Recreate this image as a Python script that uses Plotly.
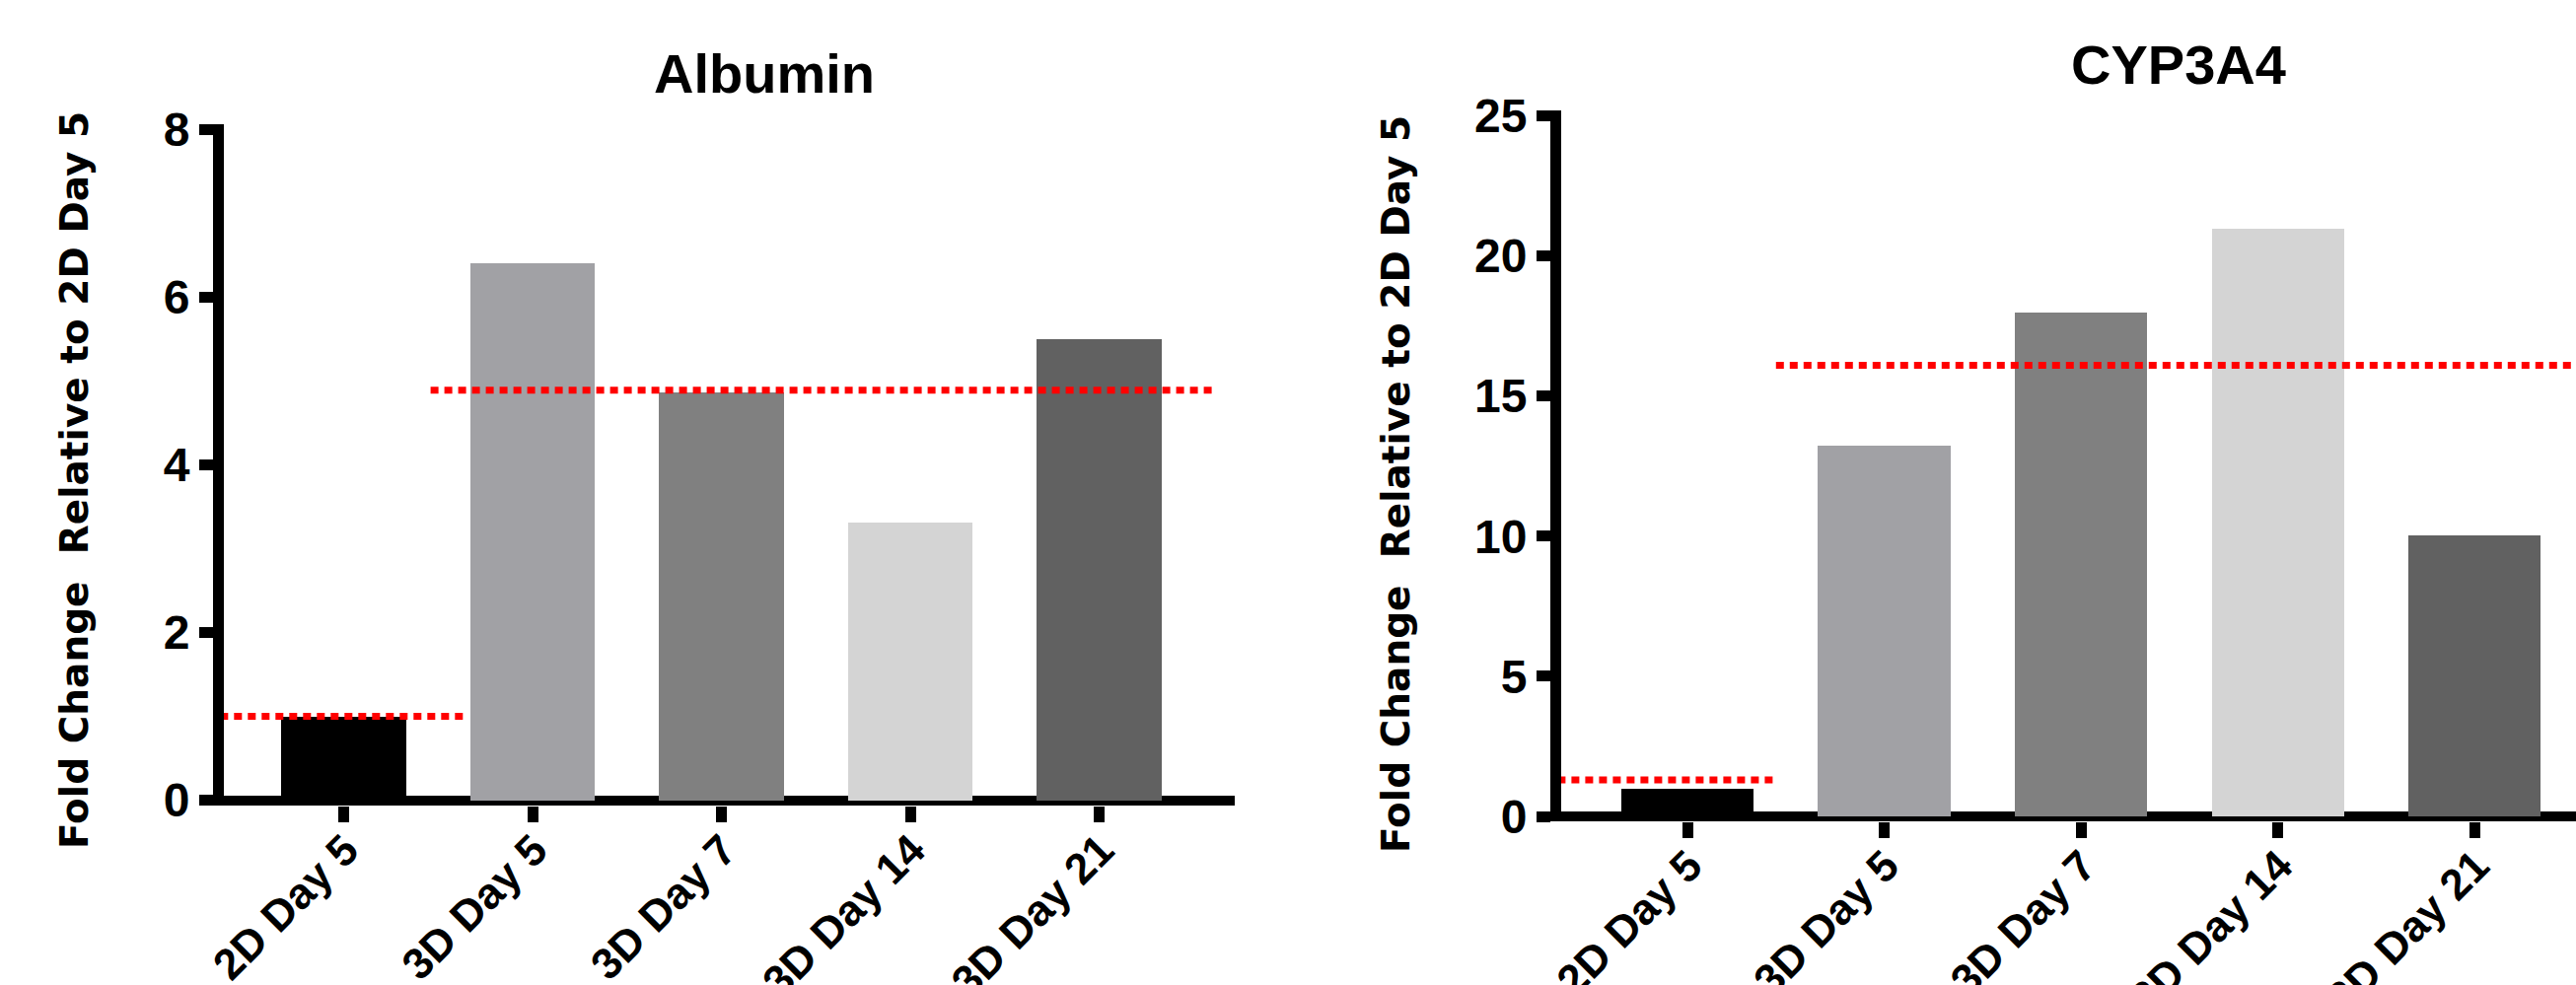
import plotly.graph_objects as go

# ---- data ----
categories = ["2D Day 5", "3D Day 5", "3D Day 7", "3D Day 14", "3D Day 21"]
bar_colors = ["#000000", "#A1A1A5", "#808080", "#D4D4D4", "#616161"]

albumin_values = [1.0, 6.41, 4.86, 3.31, 5.50]
cyp3a4_values = [1.0, 13.22, 17.98, 20.98, 10.02]

# reference (group mean) lines
albumin_ref_2d = 1.0
albumin_ref_3d = 4.89
cyp3a4_ref_2d = 1.3
cyp3a4_ref_3d = 16.1

albumin_yticks = [0, 2, 4, 6, 8]
cyp3a4_yticks = [0, 5, 10, 15, 20, 25]

W, H = 2612, 999
TICKFONT = "Liberation Sans, Arial, sans-serif"

fig = go.Figure()
idx = list(range(len(categories)))

fig.add_trace(go.Bar(x=idx, y=albumin_values, marker=dict(color=bar_colors, line=dict(width=0)),
                     width=0.663, xaxis="x", yaxis="y", showlegend=False))
fig.add_trace(go.Bar(x=idx, y=cyp3a4_values, marker=dict(color=bar_colors, line=dict(width=0)),
                     width=0.672, xaxis="x2", yaxis="y2", showlegend=False))

red = dict(color="#FF0000", width=7, dash="8px,6px")
# 2D group spans category 0, 3D group spans categories 1..4
fig.add_trace(go.Scatter(x=[-0.8, 0.64], y=[albumin_ref_2d] * 2, mode="lines", line=red,
                         xaxis="x", yaxis="y", showlegend=False))
fig.add_trace(go.Scatter(x=[0.46, 4.6], y=[albumin_ref_3d] * 2, mode="lines", line=red,
                         xaxis="x", yaxis="y", showlegend=False))
fig.add_trace(go.Scatter(x=[-0.8, 0.45], y=[cyp3a4_ref_2d] * 2, mode="lines", line=red,
                         xaxis="x2", yaxis="y2", showlegend=False))
fig.add_trace(go.Scatter(x=[0.45, 4.8], y=[cyp3a4_ref_3d] * 2, mode="lines", line=red,
                         xaxis="x2", yaxis="y2", showlegend=False))

xcommon = dict(tickmode="array", tickvals=idx, ticktext=categories, tickangle=-45,
               showline=False, showgrid=False, zeroline=False, ticks="outside",
               ticklen=16, tickwidth=11, tickcolor="black", automargin=False,
               ticklabelstandoff=-15, ticklabelshift=2,
               tickfont=dict(family=TICKFONT, size=44, color="black", weight="bold"))
ycommon = dict(showline=True, linewidth=11, linecolor="black", showgrid=False,
               zeroline=True, zerolinewidth=10, zerolinecolor="black", automargin=False,
               ticks="outside", ticklen=14, tickwidth=11, tickcolor="black",
               tickfont=dict(family=TICKFONT, size=48, color="black", weight="bold"),
               tickmode="array")

fig.update_layout(
    template="none",
    width=W, height=H, margin=dict(l=0, r=0, t=0, b=0, pad=0),
    paper_bgcolor="white", plot_bgcolor="white", bargap=0,
    xaxis=dict(domain=[227 / W, 1252 / W], range=[-0.6345, 4.718], anchor="y", **xcommon),
    yaxis=dict(domain=[(H - 816.5) / H, (H - 126) / H], range=[-0.0588, 8.0647], anchor="x",
               tickvals=albumin_yticks, **ycommon),
    xaxis2=dict(domain=[1583 / W, 1.0], range=[-0.6416, 4.516], anchor="y2", **xcommon),
    yaxis2=dict(domain=[(H - 832.5) / H, (H - 112) / H], range=[-0.158, 25.19], anchor="x2",
                tickvals=cyp3a4_yticks, **ycommon),
)

titlefont = dict(family=TICKFONT, size=56, color="black", weight="bold")
ytitlefont = dict(family="DejaVu Sans, sans-serif", size=39, color="black", weight="bold")
ytitle = "Fold Change \u00a0Relative to 2D Day 5"
fig.add_annotation(text="Albumin", x=775 / W, y=(H - 75) / H, xref="paper", yref="paper",
                   xanchor="center", yanchor="middle", showarrow=False, font=titlefont)
fig.add_annotation(text="CYP3A4", x=2209 / W, y=(H - 66) / H, xref="paper", yref="paper",
                   xanchor="center", yanchor="middle", showarrow=False, font=titlefont)
fig.add_annotation(text=ytitle, x=75 / W, y=(H - 487) / H, xref="paper", yref="paper",
                   xanchor="center", yanchor="middle", textangle=-90, showarrow=False, font=ytitlefont)
fig.add_annotation(text=ytitle, x=1415 / W, y=(H - 491) / H, xref="paper", yref="paper",
                   xanchor="center", yanchor="middle", textangle=-90, showarrow=False, font=ytitlefont)

fig.write_html("out.html", config={"displayModeBar": False},
               post_script="document.body.style.margin='0';document.body.style.overflow='hidden';")
